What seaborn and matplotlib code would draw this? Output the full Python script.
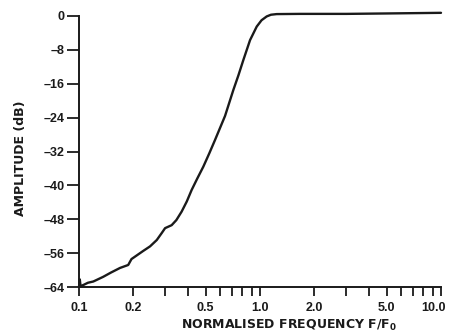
import matplotlib
matplotlib.use("Agg")
import matplotlib.pyplot as plt
import matplotlib.transforms as mtransforms
import seaborn as sns
import pandas as pd
from matplotlib.ticker import FixedLocator, NullFormatter

freq = [0.100, 0.101, 0.102, 0.106, 0.112, 0.120, 0.136, 0.150, 0.1685, 0.187,
        0.195, 0.226, 0.247, 0.269, 0.286, 0.299, 0.325, 0.345, 0.369, 0.394,
        0.419, 0.450, 0.486, 0.525, 0.564, 0.641, 0.712, 0.760, 0.809, 0.881,
        0.959, 1.02, 1.089, 1.15, 1.237, 1.66, 3.0, 5.0, 8.0, 10.0]
amp_db = [-64.0, -62.2, -63.8, -63.5, -63.0, -62.7, -61.6, -60.6, -59.5, -58.8,
          -57.4, -55.5, -54.4, -52.9, -51.3, -50.1, -49.4, -48.2, -46.2, -43.8,
          -41.1, -38.4, -35.6, -32.4, -29.3, -23.6, -17.5, -14.0, -10.4, -5.7,
          -2.5, -1.0, -0.1, 0.3, 0.45, 0.5, 0.5, 0.6, 0.7, 0.75]

major_x = [0.1, 0.2, 0.5, 1.0, 2.0, 5.0, 10.0]
major_x_labels = ["0.1", "0.2", "0.5", "1.0", "2.0", "5.0", "10.0"]
minor_x = [0.3, 0.4, 0.6, 0.7, 0.8, 0.9, 3, 4, 6, 7, 8, 9]
y_ticks = [0, -8, -16, -24, -32, -40, -48, -56, -64]
y_labels = ["0", "\u20138", "\u201316", "\u201324", "\u201332", "\u201340", "\u201348", "\u201356", "\u201364"]

sns.set_style("ticks")
plt.rcParams["font.family"] = ["Liberation Sans", "DejaVu Sans"]
plt.rcParams["font.weight"] = "bold"

fig = plt.figure(figsize=(4.51, 3.33), dpi=100)
ax = fig.add_axes([79/451, 1 - 287/333, 362/451, 271/333])

df = pd.DataFrame({"f": freq, "db": amp_db})
sns.lineplot(data=df, x="f", y="db", sort=False, estimator=None, color="#1a1a1a",
             linewidth=1.7, ax=ax, clip_on=False, solid_joinstyle="round",
             solid_capstyle="round")

ax.set_xscale("log")
ax.set_xlim(0.1, 10.0)
ax.set_ylim(-64, 0)
ax.xaxis.set_major_locator(FixedLocator(major_x))
ax.set_xticklabels(major_x_labels)
ax.xaxis.set_minor_locator(FixedLocator(minor_x))
ax.xaxis.set_minor_formatter(NullFormatter())
ax.set_yticks(y_ticks)
ax.set_yticklabels(y_labels)

for s in ["top", "right"]:
    ax.spines[s].set_visible(False)
for s in ["left", "bottom"]:
    ax.spines[s].set_linewidth(1.4)
    ax.spines[s].set_color("#1a1a1a")

ax.tick_params(axis="both", which="both", direction="out", width=1.3,
               color="#1a1a1a", labelsize=9, labelcolor="#1a1a1a")
ax.tick_params(axis="x", which="both", length=6.5)
ax.tick_params(axis="x", which="major", pad=4)
ax.tick_params(axis="y", which="major", length=9, pad=1.5)

# nudge the last x tick label inward so it stays inside the figure
last = ax.get_xticklabels()[-1]
last.set_transform(last.get_transform() +
                   mtransforms.ScaledTranslation(-7/100, 0, fig.dpi_scale_trans))

ax.set_xlabel("NORMALISED FREQUENCY F/F$_\\mathbf{0}$", fontsize=9, fontweight="bold",
              color="#1a1a1a", family="DejaVu Sans")
ax.xaxis.set_label_coords(0.581, -0.113)
ax.set_ylabel("AMPLITUDE (dB)", fontsize=9, fontweight="bold", color="#1a1a1a",
              family="DejaVu Sans")
ax.yaxis.set_label_coords(-0.144, 0.476)

fig.savefig("out.png", dpi=100, facecolor="white")
